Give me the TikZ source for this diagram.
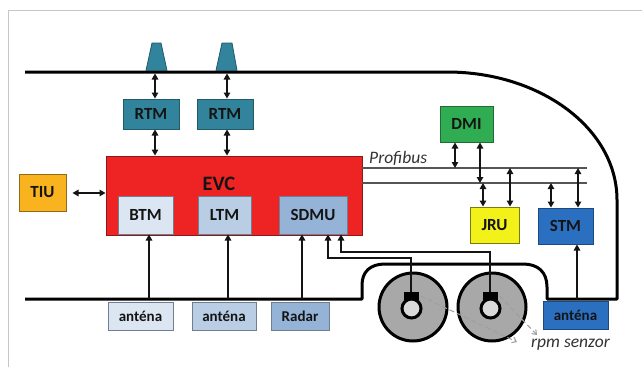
\documentclass[tikz,border=0pt]{standalone}
\usepackage{fontspec}
\setmainfont{Carlito}
\usetikzlibrary{arrows.meta}

\definecolor{rtmfill}{HTML}{31849B}
\definecolor{rtmline}{HTML}{215A69}
\definecolor{evcfill}{HTML}{EE2424}
\definecolor{evcline}{HTML}{8A1A1A}
\definecolor{tiufill}{HTML}{F8B31E}
\definecolor{tiuline}{HTML}{8C6A1E}
\definecolor{dmifill}{HTML}{30AD52}
\definecolor{dmiline}{HTML}{1F6B33}
\definecolor{jrufill}{HTML}{F2F21A}
\definecolor{jruline}{HTML}{7A7A10}
\definecolor{stmfill}{HTML}{2B70C0}
\definecolor{stmline}{HTML}{1C4A80}
\definecolor{paleblue}{HTML}{DCE6F2}
\definecolor{midblue}{HTML}{B9CDE5}
\definecolor{deepblue}{HTML}{95B3D7}
\definecolor{boxline}{HTML}{6F7F8F}
\definecolor{wheelgray}{HTML}{A8A8A8}
\definecolor{hubgray}{HTML}{D9D9D9}
\definecolor{busgray}{HTML}{555555}
\definecolor{inkdark}{HTML}{141414}

\begin{document}
\begin{tikzpicture}[x=1pt,y=-1pt,
  unitbox/.style={rectangle, draw, line width=1pt, inner sep=0pt,
    font=\bfseries\fontsize{17}{19}\selectfont, text=inkdark},
  sensorbox/.style={rectangle, draw, line width=1pt, inner sep=0pt,
    minimum height=28pt, font=\bfseries\fontsize{15}{17}\selectfont, text=inkdark},
  twin/.style={{Triangle[length=6pt,width=6.5pt]}-{Triangle[length=6pt,width=6.5pt]},
    line width=1.2pt, draw=inkdark},
  feed/.style={-{Triangle[length=6pt,width=6.5pt]}, line width=1.2pt, draw=inkdark},
  bus/.style={line width=1.3pt, draw=busgray},
  body/.style={line width=3pt, draw=black, line join=round},
  rpmhint/.style={dashed, dash pattern=on 5pt off 3pt, line width=1pt, draw=gray!75,
    -{Straight Barb[length=4pt,width=6pt]}},
  note/.style={font=\itshape\fontsize{17.5}{19}\selectfont, text=black!80}
]
\useasboundingbox (0,0) rectangle (642,367);
\fill[white] (0,0) rectangle (642,367);

% page frame
\draw[gray!45, line width=1pt] (8,367) -- (8,10.5) -- (642,10.5);

% wheels
\foreach \n/\cx in {1/413, 2/492} {
  \node[circle, fill=wheelgray, draw=black, line width=3pt, minimum size=68pt, inner sep=0pt] (wheel\n) at (\cx,307) {};
  \node[circle, fill=hubgray, draw=black, line width=3pt, minimum size=19pt, inner sep=0pt] (hub\n) at (\cx-1.5,308.5) {};
  \node[rectangle, fill=black, minimum width=15pt, minimum height=8pt, inner sep=0pt] (sensor\n) at (\cx-2,296) {};
}

% vehicle body outline
\draw[body] (25,72) -- (447,72)
  .. controls (541,72) and (617,129) .. (617,200)
  -- (617,299) -- (547,299) -- (547,287)
  .. controls (547,272) and (538,264) .. (523,264)
  -- (385,264)
  .. controls (370,264) and (362,272) .. (362,285)
  -- (362,299) -- (25,299);

% roof antennas
\draw[fill=rtmfill, draw=rtmline, line width=0.8pt] (146,70.5) -- (152,43) -- (161,43) -- (167,70.5) -- cycle;
\draw[fill=rtmfill, draw=rtmline, line width=0.8pt] (216,70.5) -- (222,43) -- (232,43) -- (237,70.5) -- cycle;
\coordinate (roof1) at (155,73.5);
\coordinate (roof2) at (227,73.5);

% radio units
\node[unitbox, fill=rtmfill, draw=rtmline, minimum width=56pt, minimum height=30pt] (rtm1) at (151,114) {RTM};
\node[unitbox, fill=rtmfill, draw=rtmline, minimum width=56pt, minimum height=30pt] (rtm2) at (225,114) {RTM};

% EVC with its modules
\node[rectangle, fill=evcfill, draw=evcline, line width=1pt, minimum width=256pt, minimum height=79pt, inner sep=0pt] (evc) at (234,195.5) {};
\node[font=\bfseries\fontsize{20.5}{22}\selectfont, text=inkdark, inner sep=0pt] (evctitle) at (219,184) {EVC};
\node[unitbox, fill=paleblue, draw=boxline, minimum width=55pt, minimum height=38pt] (btm) at (145.5,215) {BTM};
\node[unitbox, fill=midblue, draw=boxline, minimum width=53pt, minimum height=38pt] (ltm) at (224.5,215) {LTM};
\node[unitbox, fill=deepblue, draw=boxline, minimum width=68pt, minimum height=38pt] (sdmu) at (313,215) {SDMU};

% train interface unit
\node[unitbox, fill=tiufill, draw=tiuline, minimum width=47pt, minimum height=37pt] (tiu) at (42.5,192.5) {TIU};

% Profibus units
\node[unitbox, fill=dmifill, draw=dmiline, minimum width=53pt, minimum height=36pt] (dmi) at (466.5,124) {DMI};
\node[unitbox, fill=jrufill, draw=jruline, minimum width=49pt, minimum height=36pt] (jru) at (494.5,225) {JRU};
\node[unitbox, fill=stmfill, draw=stmline, minimum width=55pt, minimum height=36pt] (stm) at (565.5,226) {STM};

% under-floor sensors
\node[sensorbox, fill=paleblue, draw=boxline, minimum width=65pt] (antA) at (140.5,316) {anténa};
\node[sensorbox, fill=midblue, draw=boxline, minimum width=64pt] (antB) at (224,316) {anténa};
\node[sensorbox, fill=deepblue, draw=boxline, minimum width=58pt] (radar) at (300,316) {Radar};
\node[sensorbox, fill=stmfill, draw=stmline, minimum width=65pt] (antC) at (575.5,315) {anténa};

% Profibus lines
\coordinate (busA0) at (362,168);
\coordinate (busA1) at (587,168);
\coordinate (busB0) at (362,183);
\coordinate (busB1) at (587,183);
\draw[bus] (busA0) -- (busA1);
\draw[bus] (busB0) -- (busB1);
\node[note, anchor=west, inner sep=0pt] (profibus) at (369,158.5) {Profibus};

% roof antennas -- RTM -- EVC
\draw[twin] (roof1) -- (roof1 |- rtm1.north);
\draw[twin] (roof2) -- (roof2 |- rtm2.north);
\draw[twin] (roof1 |- rtm1.south) -- (roof1 |- evc.north);
\draw[twin] (roof2 |- rtm2.south) -- (roof2 |- evc.north);

% TIU -- EVC
\draw[twin] ([xshift=6pt]tiu.east |- 0,193) -- (evc.west |- 0,193);

% DMI, JRU, STM on the bus
\draw[twin] ([xshift=-11.5pt]dmi.south) -- ([xshift=-11.5pt]dmi.south |- busA0);
\draw[twin] ([xshift=13.5pt]dmi.south) -- ([xshift=13.5pt]dmi.south |- busB0);
\draw[twin] ([xshift=-11.5pt]jru.north |- busB0) -- ([xshift=-11.5pt]jru.north);
\draw[twin] ([xshift=15.5pt]jru.north |- busA0) -- ([xshift=15.5pt]jru.north);
\draw[twin] ([xshift=-14.5pt]stm.north |- busB0) -- ([xshift=-14.5pt]stm.north);
\draw[twin] ([xshift=12.5pt]stm.north |- busA0) -- ([xshift=12.5pt]stm.north);

% sensor feeds
\draw[feed] ([xshift=8.5pt]antA.north |- 0,299) -- ([xshift=8.5pt]antA.north |- btm.south);
\draw[feed] ([xshift=4pt]antB.north |- 0,299) -- ([xshift=4pt]antB.north |- ltm.south);
\draw[feed] ([xshift=2pt]radar.north |- 0,299) -- ([xshift=2pt]radar.north |- sdmu.south);
\draw[feed] ([xshift=1.5pt]antC.north |- 0,299) -- ([xshift=1.5pt]antC.north |- stm.south);

% wheel speed sensors to SDMU
\draw[feed] (sensor1.north) -- (sensor1.north |- 0,258) -- (328,258) -- (328,0 |- sdmu.south);
\draw[feed] (sensor2.north) -- (sensor2.north |- 0,252) -- (341,252) -- (341,0 |- sdmu.south);

% rpm sensor hints
\node[note, anchor=west, inner sep=0pt] (rpm) at (531,345) {rpm senzor};
\draw[rpmhint] ([xshift=2pt]sensor1.east) -- (517,342);
\draw[rpmhint] ([xshift=2pt]sensor2.east) -- (537,335);
\end{tikzpicture}
\end{document}
